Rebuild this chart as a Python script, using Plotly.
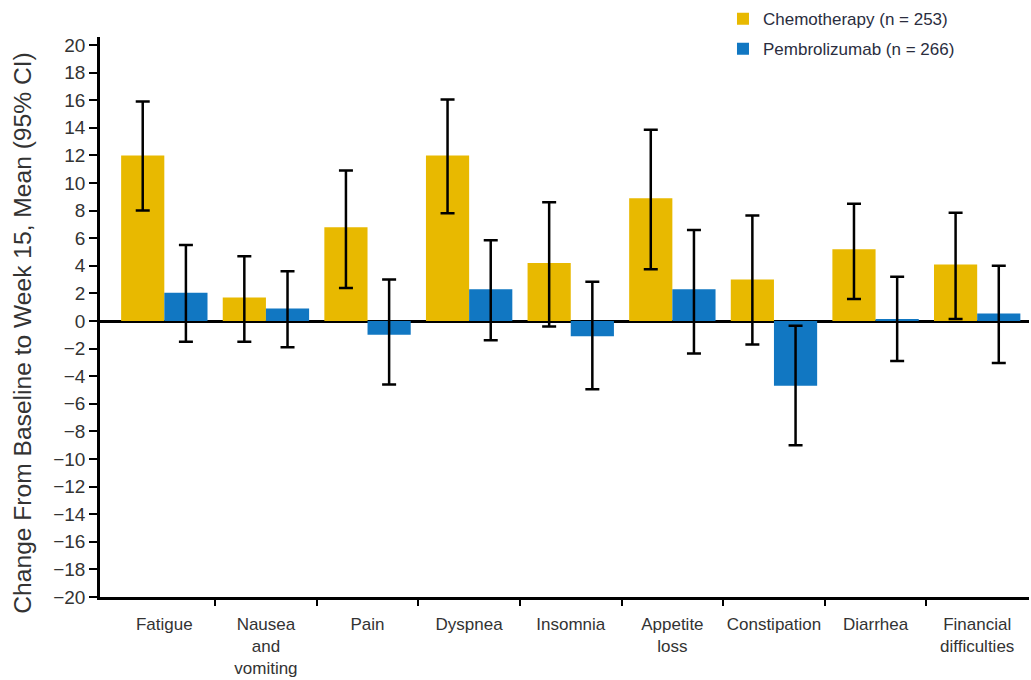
import plotly.graph_objects as go

categories = ["Fatigue", "Nausea<br>and<br>vomiting", "Pain", "Dyspnea", "Insomnia",
              "Appetite<br>loss", "Constipation", "Diarrhea", "Financial<br>difficulties"]

chemo_mean = [12.0, 1.7, 6.8, 12.0, 4.2, 8.9, 3.0, 5.2, 4.1]
chemo_low = [8.0, -1.5, 2.4, 7.8, -0.4, 3.75, -1.7, 1.6, 0.15]
chemo_high = [15.9, 4.7, 10.9, 16.05, 8.6, 13.85, 7.65, 8.5, 7.85]

pembro_mean = [2.05, 0.9, -1.0, 2.3, -1.1, 2.3, -4.7, 0.15, 0.55]
pembro_low = [-1.5, -1.9, -4.6, -1.4, -4.95, -2.35, -9.0, -2.9, -3.05]
pembro_high = [5.5, 3.6, 3.0, 5.85, 2.85, 6.6, -0.35, 3.2, 4.0]

y_ticks = list(range(-20, 21, 2))

x_idx = list(range(len(categories)))

CHEMO_COLOR = "#E8B900"
PEMBRO_COLOR = "#1177C2"
FONT = "Liberation Sans, Arial, sans-serif"

fig = go.Figure()
fig.add_trace(go.Bar(
    x=x_idx, y=chemo_mean, name="Chemotherapy (n = 253)",
    marker=dict(color=CHEMO_COLOR, line=dict(width=0)),
    legendgroup="a",
    error_y=dict(type="data", symmetric=False,
                 array=[h - m for h, m in zip(chemo_high, chemo_mean)],
                 arrayminus=[m - l for m, l in zip(chemo_mean, chemo_low)],
                 color="black", thickness=2.5, width=7),
))
fig.add_trace(go.Bar(
    x=x_idx, y=pembro_mean, name="Pembrolizumab (n = 266)",
    marker=dict(color=PEMBRO_COLOR, line=dict(width=0)),
    legendgroup="b",
    error_y=dict(type="data", symmetric=False,
                 array=[h - m for h, m in zip(pembro_high, pembro_mean)],
                 arrayminus=[m - l for m, l in zip(pembro_mean, pembro_low)],
                 color="black", thickness=2.5, width=7),
))
# invisible trace to carry the boundary-tick axis
fig.add_trace(go.Scatter(x=[0], y=[0], xaxis="x2", mode="markers",
                         marker=dict(opacity=0), showlegend=False, hoverinfo="skip"))

x_range = [-0.633, 8.51]

fig.update_layout(
    width=1031, height=680,
    margin=dict(l=100, r=2, t=37, b=82.5, autoexpand=False),
    paper_bgcolor="white", plot_bgcolor="white",
    barmode="group", bargap=0.15, bargroupgap=0,
    font=dict(family=FONT, color="#2b2b2b"),
    showlegend=True,
    legend=dict(x=0.6706, y=1.064, xanchor="left", yanchor="top",
                font=dict(size=17, color="#2a2d3e", family=FONT),
                traceorder="grouped", tracegroupgap=5,
                bgcolor="rgba(0,0,0,0)", itemwidth=30),
    xaxis=dict(
        range=x_range, tickmode="array", tickvals=x_idx, ticktext=categories,
        ticks="outside", ticklen=10, tickcolor="rgba(0,0,0,0)",
        showline=True, linecolor="black", linewidth=2.5,
        showgrid=False, zeroline=False, automargin=False,
        tickfont=dict(size=17, color="#333333", family=FONT),
    ),
    xaxis2=dict(
        range=x_range, overlaying="x", anchor="y", side="bottom",
        tickmode="array", tickvals=[i + 0.5 for i in x_idx[:-1]],
        ticks="outside", ticklen=8, tickwidth=1.5, tickcolor="black",
        showticklabels=False, showgrid=False, zeroline=False, showline=False,
        automargin=False,
    ),
    yaxis=dict(
        range=[-20, 20.58], tickmode="array", tickvals=y_ticks,
        ticks="outside", ticklen=8, tickwidth=1.5, tickcolor="black",
        showline=True, linecolor="black", linewidth=2.5,
        showgrid=False, zeroline=True, zerolinecolor="black", zerolinewidth=2.5,
        automargin=False,
        tickfont=dict(size=19, color="#333333", family=FONT),
    ),
    annotations=[dict(
        text="Change From Baseline to Week 15, Mean (95% CI)",
        xref="paper", yref="paper", x=-0.0829, y=0.472,
        xanchor="center", yanchor="middle", textangle=-90, showarrow=False,
        font=dict(size=24.6, color="#333333", family=FONT),
    )],
)

fig.write_html("out.html")
